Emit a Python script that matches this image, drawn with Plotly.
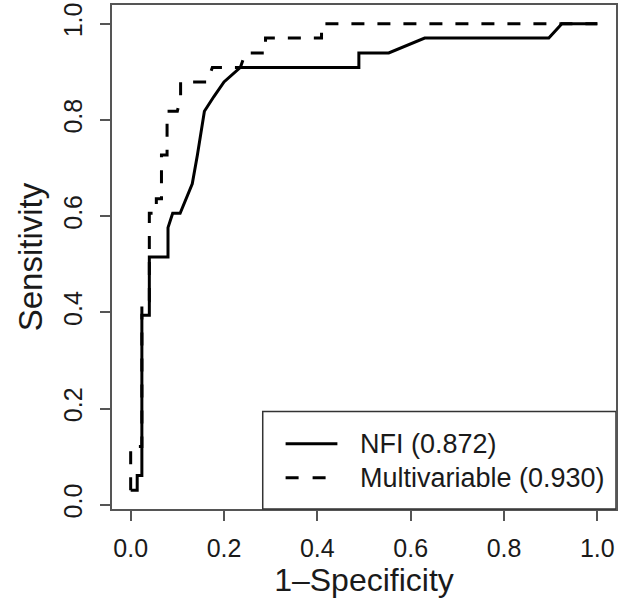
import plotly.graph_objects as go

# ROC curve points (1 - specificity, sensitivity)
nfi_fpr = [0, 0.014, 0.014, 0.024, 0.024, 0.04, 0.04, 0.08, 0.08, 0.09, 0.106,
           0.132, 0.143, 0.158, 0.178, 0.2, 0.235, 0.489, 0.489, 0.553, 0.63,
           0.896, 0.924, 1.0]
nfi_tpr = [0.03, 0.03, 0.061, 0.061, 0.394, 0.394, 0.515, 0.515, 0.576, 0.606,
           0.606, 0.667, 0.727, 0.818, 0.848, 0.879, 0.909, 0.909, 0.939, 0.939,
           0.970, 0.970, 1.0, 1.0]

mv_fpr = [0, 0, 0.024, 0.024, 0.04, 0.04, 0.055, 0.055, 0.066, 0.066, 0.078,
          0.078, 0.1, 0.107, 0.107, 0.139, 0.164, 0.175, 0.235, 0.246, 0.271,
          0.289, 0.289, 0.409, 0.409, 1.0]
mv_tpr = [0.03, 0.121, 0.121, 0.424, 0.424, 0.606, 0.606, 0.636, 0.636, 0.727,
          0.727, 0.818, 0.818, 0.848, 0.879, 0.879, 0.879, 0.909, 0.909, 0.939,
          0.939, 0.939, 0.970, 0.970, 1.0, 1.0]

legend_labels = ["NFI (0.872)", "Multivariable (0.930)"]
tick_vals = [0.0, 0.2, 0.4, 0.6, 0.8, 1.0]
tick_text = ["0.0", "0.2", "0.4", "0.6", "0.8", "1.0"]

FONT = "Liberation Sans, Arial, Helvetica, sans-serif"
TXT = "#1a1a1a"
AX = "#555555"

fig = go.Figure()
fig.add_trace(go.Scatter(x=nfi_fpr, y=nfi_tpr, mode="lines",
                         line=dict(color="black", width=3), showlegend=False,
                         name=legend_labels[0]))
fig.add_trace(go.Scatter(x=mv_fpr, y=mv_tpr, mode="lines",
                         line=dict(color="black", width=3, dash="13px,13px"),
                         showlegend=False, name=legend_labels[1]))

# legend box (R style), anchored at bottom-right of plot region
fig.add_shape(type="rect", xref="x", yref="paper", x0=0.283, x1=1.04, y0=0, y1=0.1936,
              line=dict(color="#333333", width=1.5), fillcolor="white", layer="above")
fig.add_shape(type="line", xref="x", yref="y", x0=0.332, x1=0.443, y0=0.127, y1=0.127,
              line=dict(color="black", width=3), layer="above")
fig.add_shape(type="line", xref="x", yref="y", x0=0.332, x1=0.443, y0=0.056, y1=0.056,
              line=dict(color="black", width=3, dash="13px,14px"), layer="above")
for lbl, yy in zip(legend_labels, [0.127, 0.056]):
    fig.add_annotation(x=0.488, y=yy, xref="x", yref="y", text=lbl, showarrow=False,
                       xanchor="left", yanchor="middle",
                       font=dict(family=FONT, size=27, color=TXT))

axis_common = dict(showgrid=False, zeroline=False, showline=True, mirror=True,
                   linecolor=AX, linewidth=2, ticks="outside", ticklen=10,
                   tickwidth=2, tickcolor=AX, tickvals=tick_vals, ticktext=tick_text,
                   tickfont=dict(family=FONT, size=25, color=TXT), automargin=False)

fig.update_xaxes(range=[-0.04, 1.04], title=dict(text="1\u2013Specificity",
                 font=dict(family=FONT, size=32, color=TXT), standoff=8),
                 ticklabelstandoff=6, **axis_common)
fig.update_yaxes(range=[-0.0088, 1.0388], tickangle=-90,
                 title=dict(text="Sensitivity", font=dict(family=FONT, size=33, color=TXT),
                            standoff=6),
                 ticklabelstandoff=8, **axis_common)

fig.update_layout(width=634, height=605, margin=dict(l=112, r=18, t=5, b=96),
                  plot_bgcolor="white", paper_bgcolor="white", template="none")

fig.write_html("out.html", config={"displayModeBar": False},
               post_script="document.body.style.margin='0';")
